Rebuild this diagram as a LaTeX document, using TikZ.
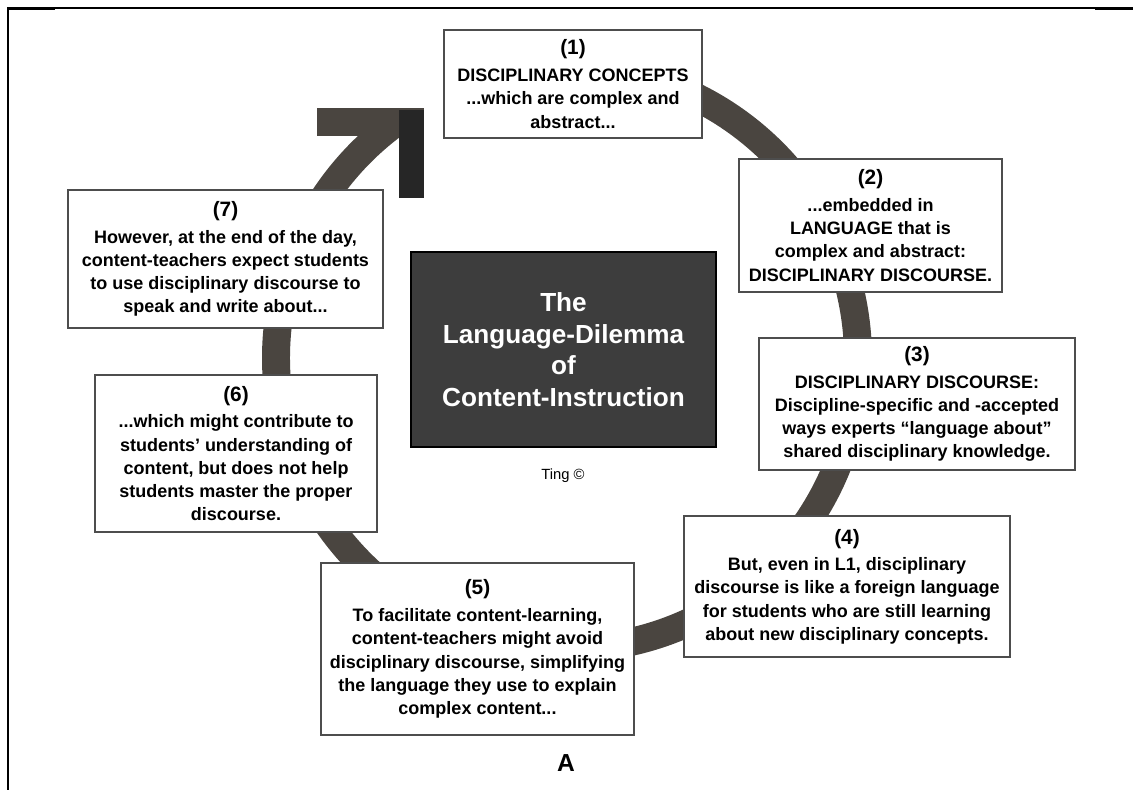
\documentclass[tikz,border=0pt]{standalone}
\usepackage{fontspec}
\setmainfont{Liberation Sans}

\definecolor{ringbrown}{HTML}{4A4540}
\definecolor{headdark}{HTML}{262626}
\definecolor{centregray}{HTML}{3D3D3D}
\definecolor{boxline}{HTML}{4D4D4D}

\newcommand{\boxnum}[1]{{\fontsize{14.8}{18}\selectfont #1}\\[2.5pt]}

\begin{document}
\begin{tikzpicture}[x=0.025cm, y=0.025cm,
    ring/.style = {draw=ringbrown, line width=19.9pt},
    stepbox/.style = {draw=boxline, line width=1.1pt, fill=white, align=center,
                      inner sep=0pt, font=\fontsize{12.8}{16.5}\selectfont\bfseries},
    centrebox/.style = {draw=black, line width=0.8pt, fill=centregray, text=white,
                        align=center, inner sep=0pt,
                        font=\fontsize{18.6}{22.5}\selectfont\bfseries}]
    \useasboundingbox (0,0) rectangle (1133,-790);
    % page frame
    \draw[line width=1.1pt] (8,-790) -- (8,-8) -- (1133,-8);
    \draw[line width=1.6pt] (8,-9) -- (55,-9);
    \draw[line width=1.6pt] (1095,-9) -- (1133,-9);
    % coordinates for the cycle
    \coordinate (hub)  at (567,-358);
    \coordinate (tail) at ([shift={(100:291)}]hub);
    % the ring and its head
    \draw[ring] (tail) arc[start angle=100, end angle=-233.3, radius=291];
    \fill[ringbrown] (317,-108) rectangle (424,-136);
    \fill[headdark]  (399,-110) rectangle (424,-198);
    % the seven steps
    \node[stepbox, minimum width=6.45cm,  minimum height=2.7cm]   (one)   at (573,-84)
      {\boxnum{(1)}DISCIPLINARY CONCEPTS\\...which are complex and\\abstract...};
    \node[stepbox, minimum width=6.575cm, minimum height=3.325cm] (two)   at (870.5,-225.5)
      {\boxnum{(2)}...embedded in\\LANGUAGE that is\\complex and abstract:\\DISCIPLINARY DISCOURSE.};
    \node[stepbox, minimum width=7.9cm,   minimum height=3.3cm]   (three) at (917,-404)
      {\boxnum{(3)}DISCIPLINARY DISCOURSE:\\Discipline-specific and -accepted\\ways experts “language about”\\shared disciplinary knowledge.};
    \node[stepbox, minimum width=8.15cm,  minimum height=3.525cm] (four)  at (847,-586.5)
      {\boxnum{(4)}But, even in L1, disciplinary\\discourse is like a foreign language\\for students who are still learning\\about new disciplinary concepts.};
    \node[stepbox, minimum width=7.825cm, minimum height=4.3cm]   (five)  at (477.5,-649)
      {\boxnum{(5)}To facilitate content-learning,\\content-teachers might avoid\\disciplinary discourse, simplifying\\the language they use to explain\\complex content...};
    \node[stepbox, minimum width=7.05cm,  minimum height=3.925cm] (six)   at (236,-453.5)
      {\boxnum{(6)}...which might contribute to\\students’ understanding of\\content, but does not help\\students master the proper\\discourse.};
    \node[stepbox, minimum width=7.875cm, minimum height=3.45cm]  (seven) at (225.5,-259)
      {\boxnum{(7)}However, at the end of the day,\\content-teachers expect students\\to use disciplinary discourse to\\speak and write about...};
    % title in the middle
    \node[centrebox, minimum width=7.625cm, minimum height=4.875cm] (title) at (563.5,-349.5)
      {The\\Language-Dilemma\\of\\Content-Instruction};
    \node[font=\fontsize{10.5}{12}\selectfont] (credit) at (563,-476) {Ting ©};
    \node[font=\fontsize{17.5}{20}\selectfont\bfseries] (panel) at (566,-763) {A};
\end{tikzpicture}
\end{document}
